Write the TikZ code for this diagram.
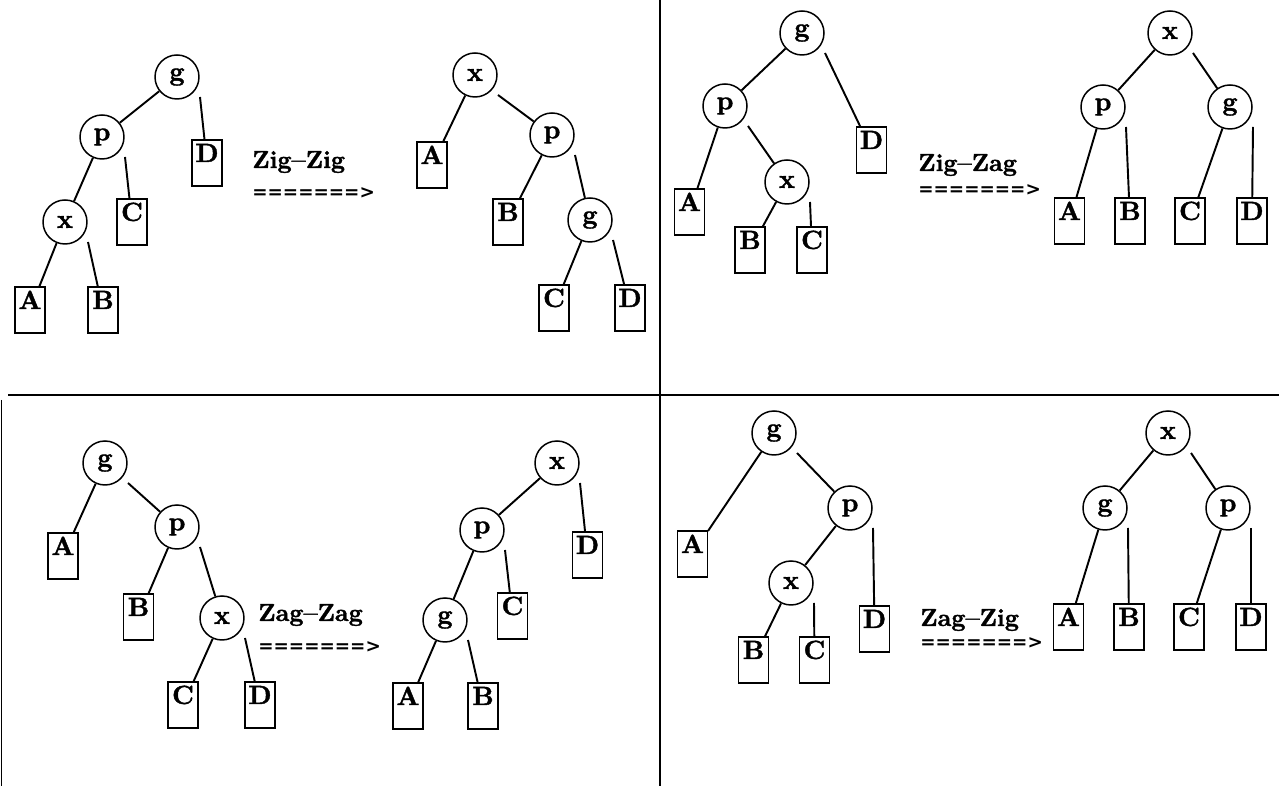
\documentclass[tikz,border=0pt]{standalone}
\usepackage{tikz}
\usepackage{fontspec}
% heavy bold face for the tree letters and rotation names
\newfontfamily\treefont{lmroman10-bold.otf}[FakeBold=1.5, Ligatures=TeX]
\newfontfamily\arrowfont{DejaVu Sans}

\tikzset{
  inode/.style={circle, draw, line width=0.85pt, minimum size=0.88cm, inner sep=0pt,
    font=\treefont\fontsize{15}{15}\selectfont},
  leaf/.style={rectangle, draw, line width=0.6pt, minimum width=0.6cm,
    inner xsep=0pt, inner ysep=0.1cm, text height=0.34cm, text depth=0.38cm,
    font=\treefont\fontsize{15}{15}\selectfont},
  edge/.style={line width=1.1pt},
  rchild/.style={shift={(23,20)}},
  divider/.style={line width=1.1pt},
  rotname/.style={anchor=west, inner sep=0pt, font=\treefont\fontsize{14}{14}\selectfont},
  rotarrow/.style={anchor=west, inner sep=0pt, font=\arrowfont\bfseries\fontsize{10.4}{11}\selectfont}
}

\begin{document}
\begin{tikzpicture}[x=0.02cm, y=-0.02cm]
\useasboundingbox (0,0) rectangle (1279,786);

% Quadrant rules
\draw[divider] (660,0) -- (660,786);
\draw[divider] (8,395) -- (1279,395);
\draw[divider] (1.5,400) -- (1.5,786);

% Zig-Zig: before
\node[inode] (g1) at (177,77) {g};
\node[inode] (p1) at (102,137) {p};
\node[inode] (x1) at (65,222) {x};
\node[leaf] (D1) at (207,163) {D};
\node[leaf] (C1) at (132,222) {C};
\node[leaf] (A1) at (30,310) {A};
\node[leaf] (B1) at (103,310) {B};
\draw[edge] (g1) -- (p1);
\draw[edge] ([rchild]g1.center) -- (D1);
\draw[edge] (p1) -- (x1);
\draw[edge] ([rchild]p1.center) -- (C1);
\draw[edge] (x1) -- (A1);
\draw[edge] ([rchild]x1.center) -- (B1);

\node[rotname] (zz) at (252,162) {Zig--Zig};
\node[rotarrow] (zzarr) at (252,193) {=======>};

% Zig-Zig: after
\node[inode] (x2) at (475,75) {x};
\node[inode] (p2) at (552,135) {p};
\node[inode] (g2) at (590,220) {g};
\node[leaf] (A2) at (432,165) {A};
\node[leaf] (B2) at (508,222) {B};
\node[leaf] (C2) at (554,308) {C};
\node[leaf] (D2) at (630,308) {D};
\draw[edge] (x2) -- (A2);
\draw[edge] ([rchild]x2.center) -- (p2);
\draw[edge] (p2) -- (B2);
\draw[edge] ([rchild]p2.center) -- (g2);
\draw[edge] (g2) -- (C2);
\draw[edge] ([rchild]g2.center) -- (D2);

% Zig-Zag: before
\node[inode] (g3) at (802,33) {g};
\node[inode] (p3) at (725,106) {p};
\node[inode] (x3) at (787,182) {x};
\node[leaf] (D3) at (871.5,150) {D};
\node[leaf] (A3) at (689.5,212) {A};
\node[leaf] (B3) at (750,250) {B};
\node[leaf] (C3) at (812,250) {C};
\draw[edge] (g3) -- (p3);
\draw[edge] ([rchild]g3.center) -- (D3);
\draw[edge] (p3) -- (A3);
\draw[edge] ([rchild]p3.center) -- (x3);
\draw[edge] (x3) -- (B3);
\draw[edge] ([rchild]x3.center) -- (C3);

\node[rotname] (zg) at (918,165) {Zig--Zag};
\node[rotarrow] (zgarr) at (918,190) {=======>};

% Zig-Zag: after
\node[inode] (x4) at (1170,33) {x};
\node[inode] (p4) at (1103,107) {p};
\node[inode] (g4) at (1230,107) {g};
\node[leaf] (A4) at (1069.5,221) {A};
\node[leaf] (B4) at (1130,221) {B};
\node[leaf] (C4) at (1190,221) {C};
\node[leaf] (D4) at (1252,221) {D};
\draw[edge] (x4) -- (p4);
\draw[edge] ([rchild]x4.center) -- (g4);
\draw[edge] (p4) -- (A4);
\draw[edge] ([rchild]p4.center) -- (B4);
\draw[edge] (g4) -- (C4);
\draw[edge] ([rchild]g4.center) -- (D4);

% Zag-Zag: before
\node[inode] (g5) at (105,463) {g};
\node[inode] (p5) at (177,527) {p};
\node[inode] (x5) at (222,618) {x};
\node[leaf] (A5) at (63,556) {A};
\node[leaf] (B5) at (138.5,617) {B};
\node[leaf] (C5) at (183,705) {C};
\node[leaf] (D5) at (260,705) {D};
\draw[edge] (g5) -- (A5);
\draw[edge] ([rchild]g5.center) -- (p5);
\draw[edge] (p5) -- (B5);
\draw[edge] ([rchild]p5.center) -- (x5);
\draw[edge] (x5) -- (C5);
\draw[edge] ([rchild]x5.center) -- (D5);

\node[rotname] (gg) at (258,615) {Zag--Zag};
\node[rotarrow] (ggarr) at (258,647) {=======>};

% Zag-Zag: after
\node[inode] (x6) at (557,463) {x};
\node[inode] (p6) at (482,530) {p};
\node[inode] (g6) at (445,620) {g};
\node[leaf] (D6) at (587.5,555) {D};
\node[leaf] (C6) at (512.5,616) {C};
\node[leaf] (A6) at (408,706) {A};
\node[leaf] (B6) at (483,706) {B};
\draw[edge] (x6) -- (p6);
\draw[edge] ([rchild]x6.center) -- (D6);
\draw[edge] (p6) -- (g6);
\draw[edge] ([rchild]p6.center) -- (C6);
\draw[edge] (g6) -- (A6);
\draw[edge] ([rchild]g6.center) -- (B6);

% Zag-Zig: before
\node[inode] (g7) at (774,433) {g};
\node[inode] (p7) at (850,508) {p};
\node[inode] (x7) at (791,583) {x};
\node[leaf] (A7) at (692.5,554) {A};
\node[leaf] (D7) at (874.5,629) {D};
\node[leaf] (B7) at (753.5,660) {B};
\node[leaf] (C7) at (814.5,660) {C};
\draw[edge] (g7) -- (A7);
\draw[edge] ([rchild]g7.center) -- (p7);
\draw[edge] (p7) -- (x7);
\draw[edge] ([rchild]p7.center) -- (D7);
\draw[edge] (x7) -- (B7);
\draw[edge] ([rchild]x7.center) -- (C7);

\node[rotname] (gz) at (920,620) {Zag--Zig};
\node[rotarrow] (gzarr) at (920,643) {=======>};

% Zag-Zig: after
\node[inode] (x8) at (1168,433) {x};
\node[inode] (g8) at (1105,508) {g};
\node[inode] (p8) at (1228,508) {p};
\node[leaf] (A8) at (1068.5,627) {A};
\node[leaf] (B8) at (1129,627) {B};
\node[leaf] (C8) at (1189,627) {C};
\node[leaf] (D8) at (1251,627) {D};
\draw[edge] (x8) -- (g8);
\draw[edge] ([rchild]x8.center) -- (p8);
\draw[edge] (g8) -- (A8);
\draw[edge] ([rchild]g8.center) -- (B8);
\draw[edge] (p8) -- (C8);
\draw[edge] ([rchild]p8.center) -- (D8);
\end{tikzpicture}
\end{document}
